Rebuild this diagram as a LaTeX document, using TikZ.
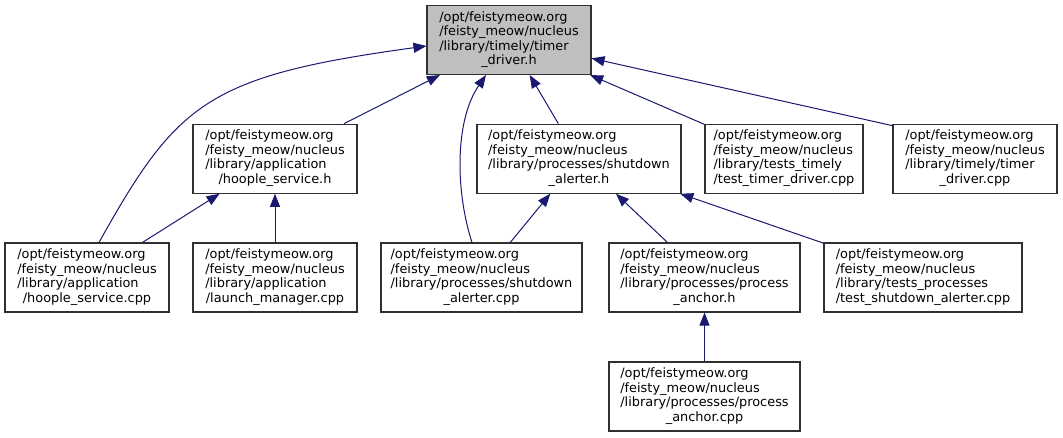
\documentclass[tikz,border=0pt]{standalone}
\usepackage{fontspec}
\setmainfont{DejaVu Sans}
\usetikzlibrary{arrows.meta}
\definecolor{edgec}{HTML}{191970}
\definecolor{rootfill}{HTML}{BFBFBF}
\definecolor{boxline}{HTML}{303030}
\newcommand{\lbl}[4]{\begin{tabular}{@{}l@{}}#1\\#2\\#3\\\multicolumn{1}{@{}c@{}}{#4}\end{tabular}}
\tikzset{
  filebox/.style={draw=boxline, line width=1.1pt, fill=white, inner sep=0pt,
    minimum height=69pt, font=\fontsize{12.9}{14.5}\selectfont},
  edge/.style={draw=edgec, line width=1pt, -{Triangle[length=13pt,width=10pt]}, color=edgec}
}
\begin{document}
\begin{tikzpicture}[x=1pt,y=-1pt]
\useasboundingbox (0,0) rectangle (1063,437);
% row 1
\node[filebox, fill=rootfill, minimum width=164pt] (top) at (509,40)
  {\lbl{/opt/feistymeow.org}{/feisty\_meow/nucleus}{/library/timely/timer}{\_driver.h}};
% row 2
\node[filebox, minimum width=164pt] (hsh) at (275,158.7)
  {\lbl{/opt/feistymeow.org}{/feisty\_meow/nucleus}{/library/application}{/hoople\_service.h}};
\node[filebox, minimum width=204pt] (sah) at (579,158.7)
  {\lbl{/opt/feistymeow.org}{/feisty\_meow/nucleus}{/library/processes/shutdown}{\_alerter.h}};
\node[filebox, minimum width=158pt] (ttd) at (784,158.7)
  {\lbl{/opt/feistymeow.org}{/feisty\_meow/nucleus}{/library/tests\_timely}{/test\_timer\_driver.cpp}};
\node[filebox, minimum width=164pt] (tdc) at (975,158.7)
  {\lbl{/opt/feistymeow.org}{/feisty\_meow/nucleus}{/library/timely/timer}{\_driver.cpp}};
% row 3
\node[filebox, minimum width=164pt] (hsc) at (87,277.5)
  {\lbl{/opt/feistymeow.org}{/feisty\_meow/nucleus}{/library/application}{/hoople\_service.cpp}};
\node[filebox, minimum width=164pt] (lmc) at (275,277.5)
  {\lbl{/opt/feistymeow.org}{/feisty\_meow/nucleus}{/library/application}{/launch\_manager.cpp}};
\node[filebox, minimum width=201pt] (sac) at (481.5,277.5)
  {\lbl{/opt/feistymeow.org}{/feisty\_meow/nucleus}{/library/processes/shutdown}{\_alerter.cpp}};
\node[filebox, minimum width=191pt] (pah) at (704.5,277.5)
  {\lbl{/opt/feistymeow.org}{/feisty\_meow/nucleus}{/library/processes/process}{\_anchor.h}};
\node[filebox, minimum width=198pt] (tsa) at (923,277.5)
  {\lbl{/opt/feistymeow.org}{/feisty\_meow/nucleus}{/library/tests\_processes}{/test\_shutdown\_alerter.cpp}};
% row 4
\node[filebox, minimum width=191pt] (pac) at (704.5,396.5)
  {\lbl{/opt/feistymeow.org}{/feisty\_meow/nucleus}{/library/processes/process}{\_anchor.cpp}};
% edges
\draw[edge] ([xshift=12pt]hsc.north) .. controls (177,103) and (207,76) .. ([yshift=-6pt]top.west);
\draw[edge] (hsh) -- (top);
\draw[edge] ([xshift=-9.5pt]sac.north) .. controls (455,190) and (455,120) .. ([xshift=-23pt]top.south);
\draw[edge] (sah) -- (top);
\draw[edge] (ttd) -- (top);
\draw[edge] ([yshift=-2pt]tdc.north west) -- (top);
\draw[edge] (hsc) -- (hsh);
\draw[edge] (lmc) -- (hsh);
\draw[edge] (sac) -- (sah);
\draw[edge] (pah) -- (sah);
\draw[edge] (tsa) -- (sah);
\draw[edge] (pac) -- (pah);
\end{tikzpicture}
\end{document}
